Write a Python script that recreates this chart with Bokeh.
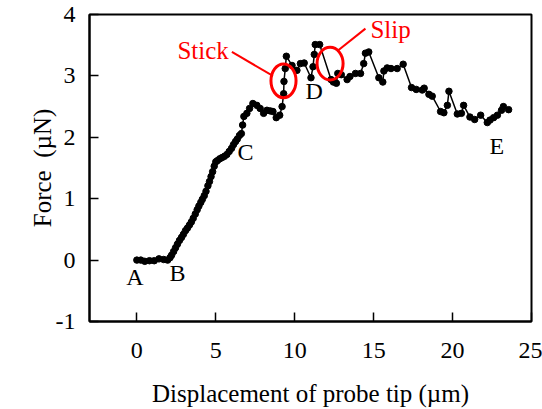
from bokeh.plotting import figure
from bokeh.models import FixedTicker, ColumnDataSource
from bokeh.core.properties import value
from bokeh.embed import file_html
from bokeh.resources import INLINE

disp = [0.0, 0.25, 0.5, 0.8, 1.1, 1.4, 1.7, 1.95,
        2.1, 2.2, 2.33, 2.45, 2.57, 2.7, 2.83, 2.95, 3.08, 3.2, 3.33, 3.45, 3.57, 3.7,
        3.82, 3.93, 4.05, 4.15, 4.27, 4.38, 4.5, 4.6, 4.7, 4.8, 4.9, 5.0,
        5.1, 5.25, 5.4, 5.55, 5.7, 5.85, 6.0, 6.12, 6.25, 6.36, 6.5, 6.62, 6.7, 6.78,
        6.97, 7.14, 7.35, 7.6, 7.81, 8.03, 8.24, 8.45, 8.62, 8.83, 9.05, 9.2, 9.3, 9.32,
        9.4, 9.47, 9.83, 10.14, 10.36, 10.6, 11.03, 11.16, 11.24, 11.3, 11.58,
        12.3, 12.45, 12.64, 12.73, 12.95, 13.32, 13.5, 13.85, 14.17, 14.37, 14.48, 14.69,
        15.33, 15.58, 15.65, 15.86, 16.1, 16.49, 16.87, 17.4, 17.7, 18.08, 18.2, 18.5,
        18.71, 19.24, 19.45, 19.67, 19.77, 20.3, 20.56, 20.7, 21.1, 21.4, 21.78, 22.2,
        22.37, 22.6, 22.84, 23.1, 23.22, 23.55]
force = [0.0, 0.0, -0.02, -0.01, -0.01, 0.02, 0.01, 0.0,
         0.04, 0.08, 0.14, 0.2, 0.26, 0.32, 0.37, 0.42, 0.48, 0.52, 0.57, 0.62, 0.68, 0.75,
         0.82, 0.88, 0.94, 0.99, 1.05, 1.12, 1.21, 1.28, 1.36, 1.44, 1.53, 1.6,
         1.62, 1.65, 1.67, 1.69, 1.72, 1.77, 1.82, 1.88, 1.93, 1.97, 2.03, 2.06, 2.2, 2.34,
         2.39, 2.47, 2.55, 2.52, 2.47, 2.39, 2.44, 2.43, 2.42, 2.32, 2.36, 2.5, 2.71, 2.91,
         3.12, 3.32, 3.17, 3.09, 3.2, 3.21, 2.97, 3.15, 3.35, 3.51, 3.51,
         2.94, 2.9, 2.88, 3.04, 3.02, 2.94, 2.99, 3.04, 3.04, 3.2, 3.37, 3.39,
         2.97, 2.9, 3.08, 3.13, 3.12, 3.12, 3.19, 2.81, 2.78, 2.77, 2.8, 2.7,
         2.67, 2.42, 2.4, 2.52, 2.75, 2.38, 2.39, 2.52, 2.33, 2.29, 2.36, 2.24,
         2.28, 2.32, 2.36, 2.44, 2.5, 2.45]

point_labels = ["A", "B", "C", "D", "E"]
point_label_x = [-0.12, 2.58, 6.89, 11.24, 22.8]
point_label_y = [-0.27, -0.21, 1.76, 2.75, 1.86]

note_labels = ["Stick", "Slip"]
note_x = [4.2, 16.07]
note_y = [3.41, 3.75]
ellipse_x = [9.29, 12.24]
ellipse_y = [2.92, 3.2]
ellipse_w = [1.59, 1.65]
ellipse_h = [0.55, 0.53]
arrow_x0 = [6.02, 12.72]
arrow_y0 = [3.39, 3.41]
arrow_x1 = [8.62, 14.48]
arrow_y1 = [3.0, 3.77]

x_ticks = [0, 5, 10, 15, 20, 25]
y_ticks = [-1, 0, 1, 2, 3, 4]
y_tick_labels = ["-1", "0", "1", "2", "3", "4"]

FONT = "Liberation Serif"

p = figure(width=542, height=409, x_range=(-3, 25), y_range=(-1, 4),
           output_backend="svg", toolbar_location=None)
p.min_border_left = 89
p.min_border_right = 11
p.min_border_top = 14
p.min_border_bottom = 86
p.grid.visible = False
p.outline_line_color = "black"
p.outline_line_width = 2
p.background_fill_color = "white"
p.border_fill_color = "white"

for ax in (p.xaxis[0], p.yaxis[0]):
    ax.axis_line_width = 2
    ax.axis_line_color = "black"
    ax.major_tick_in = 9
    ax.major_tick_out = 0
    ax.major_tick_line_width = 1.5
    ax.minor_tick_line_color = None
    ax.major_label_text_font = FONT
    ax.major_label_text_font_size = "24px"
    ax.major_label_text_color = "black"
    ax.axis_label_text_font = FONT
    ax.axis_label_text_font_size = "25px"
    ax.axis_label_text_font_style = "normal"
    ax.axis_label_text_color = "black"

p.xaxis.ticker = FixedTicker(ticks=x_ticks)
p.yaxis.ticker = FixedTicker(ticks=y_ticks)
p.yaxis.major_label_overrides = {t: s for t, s in zip(y_ticks, y_tick_labels)}
p.xaxis.axis_label = "Displacement of probe tip (\u00b5m)"
p.yaxis.axis_label = "Force \u00a0(\u00b5N)"
p.xaxis.major_label_standoff = 21
p.yaxis.major_label_standoff = 14
p.xaxis.axis_label_standoff = 19
p.yaxis.axis_label_standoff = -3

src = ColumnDataSource(dict(x=disp, y=force))
p.line("x", "y", source=src, line_color="black", line_width=1.5)
p.scatter("x", "y", source=src, size=6.5, fill_color="black", line_color="black")

p.text(point_label_x, point_label_y, text=point_labels, text_font=value(FONT),
       text_font_size="24px", text_align="center", text_baseline="middle", text_color="black")

p.segment(arrow_x0, arrow_y0, arrow_x1, arrow_y1, line_color="red", line_width=2)
p.ellipse(ellipse_x, ellipse_y, width=ellipse_w, height=ellipse_h, fill_color=None,
          line_color="red", line_width=3)
p.text(note_x, note_y, text=note_labels, text_font=value(FONT), text_font_size="25px",
       text_align="center", text_baseline="middle", text_color="red")

open("out.html", "w").write(file_html(p, INLINE))
